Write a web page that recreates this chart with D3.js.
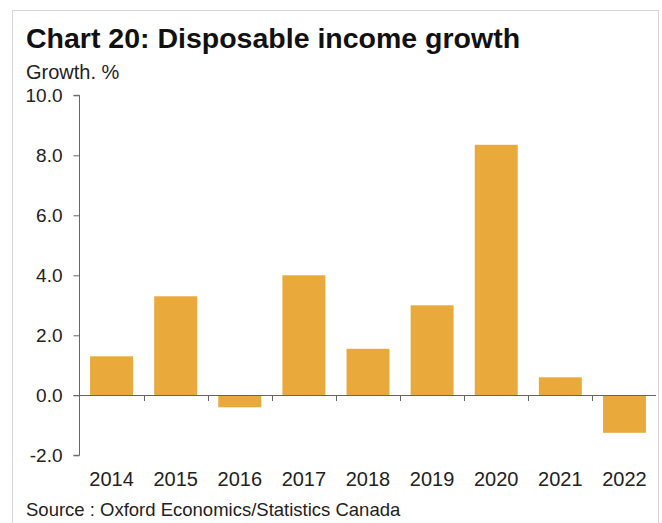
<!DOCTYPE html>
<html>
<head>
<meta charset="utf-8">
<script src="https://cdn.jsdelivr.net/npm/d3@7"></script>
<style>
  body { margin: 0; background: #fff; }
  svg { font-family: "Liberation Sans", Arial, sans-serif; }
</style>
</head>
<body>
<svg id="chart" width="662" height="523"></svg>
<script>
// Disposable income growth, %
const years = ['2014', '2015', '2016', '2017', '2018', '2019', '2020', '2021', '2022'];
const growth = [1.3, 3.3, -0.4, 4.0, 1.55, 3.0, 8.35, 0.6, -1.25];
const yTicks = [-2, 0, 2, 4, 6, 8, 10];

const svg = d3.select('#chart');

// outer frame
svg.append('rect')
    .attr('x', 12.5).attr('y', 10.5)
    .attr('width', 646).attr('height', 530)
    .attr('fill', 'none')
    .attr('stroke', '#d6d6d6');

svg.append('text')
    .attr('x', 26).attr('y', 48)
    .style('font-size', '28.5px')
    .style('font-weight', 'bold')
    .attr('fill', '#111')
    .text('Chart 20: Disposable income growth');

svg.append('text')
    .attr('x', 26).attr('y', 79)
    .style('font-size', '20px')
    .attr('fill', '#222')
    .text('Growth. %');

svg.append('text')
    .attr('x', 26).attr('y', 516)
    .style('font-size', '18.5px')
    .attr('fill', '#222')
    .text('Source : Oxford Economics/Statistics Canada');

const x = d3.scaleBand()
    .domain(years)
    .range([79.5, 656.5])
    .paddingInner(0.33)
    .paddingOuter(0.165);

const y = d3.scaleLinear()
    .domain([-2, 10])
    .range([455.3, 95.3]);

// bars
svg.append('g')
    .selectAll('rect')
    .data(years)
    .enter().append('rect')
    .attr('x', d => x(d))
    .attr('width', x.bandwidth())
    .attr('y', (d, i) => y(Math.max(0, growth[i])))
    .attr('height', (d, i) => Math.abs(y(growth[i]) - y(0)))
    .attr('fill', '#e9a93b');

// y axis
const yAxis = svg.append('g')
    .attr('transform', 'translate(79.5,0)')
    .call(d3.axisLeft(y).tickValues(yTicks).tickFormat(d3.format('.1f')).tickSize(6).tickPadding(11));
yAxis.select('.domain').attr('stroke', '#666').attr('d', `M-6,${y(10)}H0V${y(-2)}H-6`);
yAxis.selectAll('.tick line').attr('stroke', '#666');
yAxis.selectAll('.tick text')
    .style('font-size', '19px')
    .attr('fill', '#222')
    .text(d => d < 0 ? '-' + Math.abs(d).toFixed(1) : d.toFixed(1));

// zero line with category separator ticks
const zero = svg.append('g');
zero.append('line')
    .attr('x1', 73.5).attr('x2', 656)
    .attr('y1', Math.round(y(0)) + 0.5).attr('y2', Math.round(y(0)) + 0.5)
    .attr('stroke', '#666');
zero.selectAll('line.sep')
    .data(years.slice(1))
    .enter().append('line')
    .attr('class', 'sep')
    .attr('x1', d => Math.round(x(d) - x.step() * 0.165) + 0.5)
    .attr('x2', d => Math.round(x(d) - x.step() * 0.165) + 0.5)
    .attr('y1', Math.round(y(0)) + 0.5)
    .attr('y2', Math.round(y(0)) + 6)
    .attr('stroke', '#666');

// category labels
svg.append('g')
    .selectAll('text')
    .data(years)
    .enter().append('text')
    .attr('x', d => x(d) + x.bandwidth() / 2)
    .attr('y', 486)
    .attr('text-anchor', 'middle')
    .style('font-size', '20px')
    .attr('fill', '#222')
    .text(d => d);
</script>
</body>
</html>
